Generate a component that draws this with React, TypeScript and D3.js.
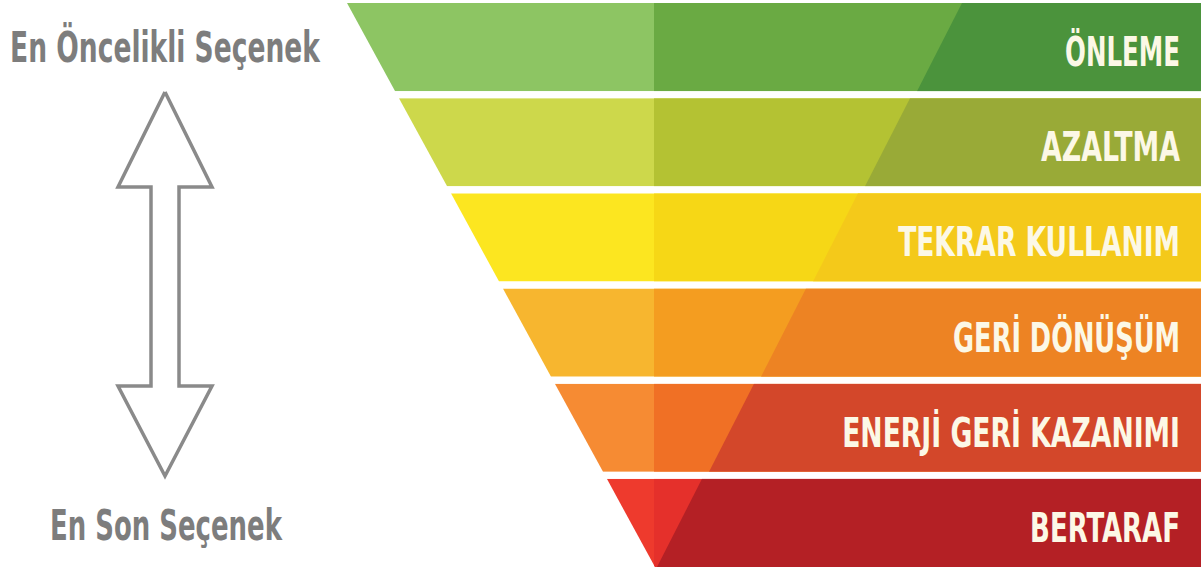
import React, { useLayoutEffect, useRef, useState } from 'react';
import * as d3 from 'd3';

// ---- data ----
const categories = ['ÖNLEME', 'AZALTMA', 'TEKRAR KULLANIM', 'GERİ DÖNÜŞÜM', 'ENERJİ GERİ KAZANIMI', 'BERTARAF'];
const priorityRank = [1, 2, 3, 4, 5, 6];
const topCaption = 'En Öncelikli Seçenek';
const bottomCaption = 'En Son Seçenek';

// ---- styles ----
const lightColors = ['#8dc563', '#cdd84b', '#fce620', '#f7b62f', '#f68b33', '#ee3a2d'];
const midColors = ['#6aaa43', '#b4c233', '#f6d716', '#f49d20', '#f07025', '#e5302b'];
const darkColors = ['#4b933c', '#99aa37', '#f4c91a', '#ed8323', '#d3472a', '#b42025'];
const labelWidths = [115, 139, 282, 227, 338, 150];
const captionWidths = [310, 232];

const W = 1203;
const H = 574;

export default function App() {
  const labelRefs = useRef<(SVGTextElement | null)[]>([]);
  const capRefs = useRef<(SVGTextElement | null)[]>([]);
  const [labelSx, setLabelSx] = useState<number[]>(categories.map(() => 1));
  const [capSx, setCapSx] = useState<number[]>([1, 1]);

  useLayoutEffect(() => {
    setLabelSx(labelRefs.current.map((el, i) => {
      const w = el ? el.getComputedTextLength() : 0;
      return w > 0 ? labelWidths[i] / w : 1;
    }));
    setCapSx(capRefs.current.map((el, i) => {
      const w = el ? el.getComputedTextLength() : 0;
      return w > 0 ? captionWidths[i] / w : 1;
    }));
  }, []);

  const y = d3.scaleBand<string>().domain(categories).range([3, 567]).paddingInner(0.074);
  const edge = d3.scaleLinear().domain([3, 567]).range([347, 655]);
  const darkX = d3.scaleLinear().domain([1, 6]).range([962, 702]);
  const midX = 654;
  const rightX = 1201;
  const diagShift = 45;
  const bw = y.bandwidth();
  const line = d3.line<[number, number]>();

  const arrowPts: [number, number][] = [
    [165, 92], [212, 187], [179, 187], [179, 386], [212, 386], [165, 476],
    [118, 386], [151, 386], [151, 187], [118, 187], [165, 92],
  ];

  return (
    <svg width={W} height={H} style={{ position: 'absolute', left: 0, top: 0, background: '#fff' }}
      fontFamily="'Liberation Sans Narrow', 'DejaVu Sans Condensed', 'Roboto', sans-serif">
      <defs>
        {categories.map((c, i) => {
          const y0 = y(c)!;
          const y1 = y0 + bw;
          return (
            <clipPath id={`band-${i}`} key={c}>
              <path d={line([[edge(y0), y0], [rightX, y0], [rightX, y1], [edge(y1), y1]])! + 'Z'} />
            </clipPath>
          );
        })}
      </defs>
      {categories.map((c, i) => {
        const y0 = y(c)!;
        const y1 = y0 + bw;
        const dx0 = darkX(priorityRank[i]);
        const dx1 = dx0 - diagShift;
        return (
          <g key={c} clipPath={`url(#band-${i})`}>
            <rect x={edge(y0) - 60} y={y0} width={rightX - edge(y0) + 60} height={bw} fill={lightColors[i]} />
            <rect x={midX} y={y0} width={rightX - midX} height={bw} fill={midColors[i]} />
            <path d={line([[dx0, y0], [rightX, y0], [rightX, y1], [dx1, y1]])! + 'Z'} fill={darkColors[i]} />
          </g>
        );
      })}
      {categories.map((c, i) => {
        const y0 = y(c)!;
        return (
          <text key={c} ref={(el) => { labelRefs.current[i] = el; }}
            transform={`translate(1180,${y0 + bw / 2 + 19}) scale(${labelSx[i]},1)`}
            textAnchor="end" fill="#fcf8e6" fontSize={41} fontWeight={700}>{c}</text>
        );
      })}
      <path d={line(arrowPts)!} fill="#fff" stroke="#8a8a8a" strokeWidth={3.5} strokeLinejoin="miter" />
      <text ref={(el) => { capRefs.current[0] = el; }} transform={`translate(165,62) scale(${capSx[0]},1)`}
        textAnchor="middle" fill="#7d7d7d" fontSize={43} fontWeight={700}>{topCaption}</text>
      <text ref={(el) => { capRefs.current[1] = el; }} transform={`translate(166,540) scale(${capSx[1]},1)`}
        textAnchor="middle" fill="#7d7d7d" fontSize={42} fontWeight={700}>{bottomCaption}</text>
    </svg>
  );
}
